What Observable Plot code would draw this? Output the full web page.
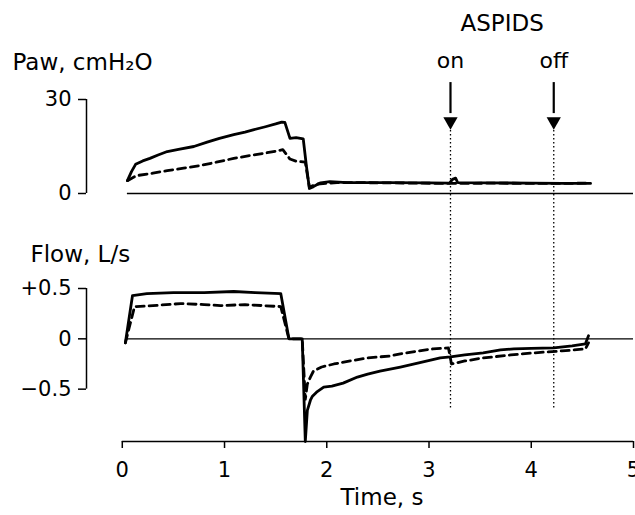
<!DOCTYPE html>
<html>
<head>
<meta charset="utf-8">
<script src="https://cdn.jsdelivr.net/npm/d3@7"></script>
<script src="https://cdn.jsdelivr.net/npm/@observablehq/plot@0.6"></script>
<style>
  body { margin: 0; background: white; }
  #chart { position: relative; width: 635px; height: 515px; }
  #chart svg { position: absolute; left: 0; top: 0; }
</style>
</head>
<body>
<div id="chart"></div>
<script>
// ---- data ----
const timeTicks = [0, 1, 2, 3, 4, 5];
const pawTicks = [0, 30];
const flowTicks = [0.5, 0, -0.5];
const flowTickLabels = ["+0.5", "0", "\u22120.5"];

// Paw, solid trace
const pawSolidT = [0.05,0.09,0.13,0.2,0.27,0.35,0.44,0.55,0.7,0.83,0.95,1.09,1.2,1.28,1.4,1.5,1.56,1.59,1.64,1.7,1.77,1.8,1.83,1.87,1.94,2.03,2.2,2.6,3.0,3.2,3.23,3.26,3.28,3.6,4.0,4.3,4.58];
const pawSolidV = [4.1,7,9.3,10.4,11.2,12.3,13.4,14.1,15.0,16.4,17.6,18.8,19.6,20.3,21.3,22.2,22.8,22.7,17.6,17.8,17.4,9,1.6,2.2,3.4,3.8,3.5,3.5,3.4,3.3,4.5,4.9,3.5,3.4,3.3,3.2,3.2];
// Paw, dashed trace
const pawDashT = [0.05,0.14,0.3,0.44,0.6,0.76,0.92,1.09,1.25,1.38,1.5,1.57,1.64,1.7,1.79,1.83,1.9,2.1,2.6,3.2,3.6,4.2,4.58];
const pawDashV = [4.1,5.7,6.5,7.3,8.1,8.9,10.0,11.2,12.1,12.8,13.5,14.0,11.0,10.3,10.0,2.0,3.0,3.5,3.4,3.2,3.3,3.2,3.3];
// Flow, solid trace
const flowSolidT = [0.03,0.1,0.24,0.5,0.8,1.09,1.3,1.55,1.63,1.76,1.79,1.81,1.84,1.86,1.9,1.97,2.05,2.16,2.3,2.4,2.52,2.72,2.9,3.11,3.21,3.35,3.53,3.7,3.83,4.0,4.22,4.4,4.53,4.56];
const flowSolidV = [-0.04,0.43,0.45,0.46,0.46,0.47,0.46,0.45,0.0,0.0,-1.02,-0.71,-0.61,-0.57,-0.53,-0.48,-0.47,-0.44,-0.38,-0.35,-0.32,-0.28,-0.24,-0.19,-0.18,-0.16,-0.14,-0.11,-0.1,-0.095,-0.09,-0.07,-0.05,0.03];
// Flow, dashed trace
const flowDashT = [0.03,0.12,0.3,0.57,0.8,0.96,1.2,1.55,1.63,1.76,1.79,1.81,1.84,1.87,1.95,2.07,2.23,2.4,2.62,2.72,2.9,3.04,3.19,3.22,3.35,3.53,3.8,4.02,4.3,4.53,4.56];
const flowDashV = [-0.04,0.32,0.33,0.35,0.34,0.33,0.34,0.32,0.0,0.0,-0.6,-0.45,-0.38,-0.32,-0.28,-0.25,-0.22,-0.19,-0.17,-0.15,-0.12,-0.1,-0.09,-0.25,-0.22,-0.19,-0.16,-0.14,-0.12,-0.1,-0.04];

// ASPIDS markers
const markerTimes = [3.21, 4.22];
const markerLabels = ["on", "off"];
const groupLabel = "ASPIDS";
const pawTitle = "Paw, cmH\u2082O";
const flowTitle = "Flow, L/s";
const timeTitle = "Time, s";

// ---- build tables ----
const zip = (ts, vs) => ts.map((t, i) => ({t, v: vs[i]}));
const pawSolid = zip(pawSolidT, pawSolidV);
const pawDash = zip(pawDashT, pawDashV);
const flowSolid = zip(flowSolidT, flowSolidV);
const flowDash = zip(flowDashT, flowDashV);
const markers = markerTimes.map((t, i) => ({t, label: markerLabels[i]}));

const FONT = "'DejaVu Sans', sans-serif";
const W = 635, H = 515;
const xOpts = {domain: [-0.35, 5]};
const common = {
  width: W, height: H, marginLeft: 86, marginRight: 2,
  style: {background: "transparent", overflow: "visible", fontFamily: FONT, color: "black"}
};
const traceStyle = {stroke: "black", strokeWidth: 2.8, strokeLinejoin: "round", strokeLinecap: "round"};
const dashStyle = {stroke: "black", strokeWidth: 2.8, strokeDasharray: "8,5"};

const pawPlot = Plot.plot({
  ...common,
  marginTop: 99, marginBottom: H - 193,
  x: {...xOpts, axis: null},
  y: {domain: [0, 30], axis: null},
  marks: [
    Plot.axisY({ticks: pawTicks, tickSize: 8, tickPadding: 7, fontSize: 21, strokeWidth: 1.5, label: null}),
    Plot.ruleX([xOpts.domain[0]], {y1: 0, y2: 30, strokeWidth: 1.5}),
    Plot.ruleY([0], {x1: 0.05, x2: 5, strokeWidth: 1.3}),
    Plot.text([pawTitle], {frameAnchor: "top-left", textAnchor: "start", lineAnchor: "middle", dx: -74, dy: -37, fontSize: 23}),
    // ASPIDS annotations
    Plot.ruleX(markers, {x: "t", y1: 20.1, y2: -68.6, strokeWidth: 1.3, strokeDasharray: "1.5,2.5"}),
    Plot.ruleX(markers, {x: "t", y1: 35.4, y2: 25.5, strokeWidth: 2.2}),
    Plot.dot(markers, {x: "t", y: 23.0, symbol: "triangle", r: 5.3, rotate: 180, fill: "black", stroke: "none"}),
    Plot.text(markers, {x: "t", y: 42.4, text: "label", fontSize: 22}),
    Plot.text([groupLabel], {x: (markerTimes[0] + markerTimes[1]) / 2, y: 54.3, fontSize: 23}),
    Plot.line(pawDash, {x: "t", y: "v", ...dashStyle}),
    Plot.line(pawSolid, {x: "t", y: "v", ...traceStyle})
  ]
});

const flowPlot = Plot.plot({
  ...common,
  marginTop: 288, marginBottom: H - 441,
  x: {...xOpts},
  y: {domain: [-1.02, 0.5], axis: null},
  marks: [
    Plot.axisY({ticks: flowTicks, tickFormat: (d) => flowTickLabels[flowTicks.indexOf(d)], tickSize: 8, tickPadding: 7, fontSize: 21, strokeWidth: 1.5, label: null}),
    Plot.ruleX([xOpts.domain[0]], {y1: -0.5, y2: 0.5, strokeWidth: 1.5}),
    Plot.axisX({ticks: timeTicks, tickFormat: (d) => String(d), tickSize: 7, tickPadding: 14, fontSize: 21, strokeWidth: 1.5, label: null}),
    Plot.ruleY([-1.02], {x1: 0, x2: 5, strokeWidth: 1.5}),
    Plot.ruleY([0], {x1: 0.05, x2: 5, strokeWidth: 1.3}),
    Plot.text([flowTitle], {frameAnchor: "top-left", textAnchor: "start", lineAnchor: "middle", dx: -56, dy: -34, fontSize: 23}),
    Plot.text([timeTitle], {x: 2.54, frameAnchor: "bottom", lineAnchor: "middle", dy: 56, fontSize: 23}),
    Plot.line(flowDash, {x: "t", y: "v", ...dashStyle}),
    Plot.line(flowSolid, {x: "t", y: "v", ...traceStyle})
  ]
});

const root = document.getElementById("chart");
root.appendChild(pawPlot);
root.appendChild(flowPlot);
</script>
</body>
</html>
